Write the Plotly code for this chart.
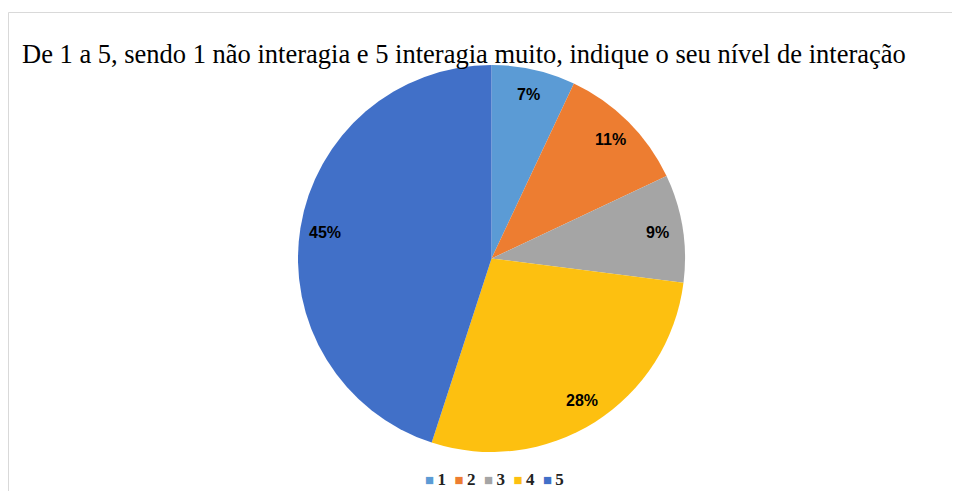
import math
import plotly.graph_objects as go

# dados do gráfico
niveis = ["1", "2", "3", "4", "5"]
percentuais = [7, 11, 9, 28, 45]
cores = ["#5B9BD5", "#ED7D31", "#A5A5A5", "#FDC010", "#4170C8"]

titulo = "De 1 a 5, sendo 1 não interagia e 5 interagia muito, indique o seu nível de interação"

W, H = 960, 491
OFF = 8  # margem padrão do <body> da página


def px(x):
    return (x - OFF) / W


def py(y):
    return 1 - (y - OFF) / H


dom_x = [px(298), px(685)]
dom_y = [py(452), py(65)]

fig = go.Figure(
    go.Pie(
        labels=niveis,
        values=percentuais,
        sort=False,
        direction="clockwise",
        rotation=0,
        marker=dict(colors=cores, line=dict(width=0)),
        textinfo="none",
        hoverinfo="label+percent",
        domain=dict(x=dom_x, y=dom_y),
        showlegend=False,
    )
)

# rótulos de dados perto da borda, como no Excel
cx = (dom_x[0] + dom_x[1]) / 2 * W
cy = (1 - (dom_y[0] + dom_y[1]) / 2) * H
raio = min((dom_x[1] - dom_x[0]) * W, (dom_y[1] - dom_y[0]) * H) / 2
total = sum(percentuais)
acumulado = 0
for p in percentuais:
    ang = 2 * math.pi * (acumulado + p / 2) / total
    acumulado += p
    lx = cx + 0.87 * raio * math.sin(ang)
    ly = cy - 0.87 * raio * math.cos(ang)
    fig.add_annotation(
        x=lx / W,
        y=1 - ly / H,
        xref="paper",
        yref="paper",
        xanchor="center",
        yanchor="middle",
        text=f"<b>{p}%</b>",
        showarrow=False,
        font=dict(family="Liberation Sans", size=16, color="black"),
    )

# legenda compacta na parte de baixo
itens = [
    f'<span style="color:{c};font-size:15px">■</span>\u2009<b>{n}</b>'
    for n, c in zip(niveis, cores)
]
fig.add_annotation(
    x=px(494),
    y=py(479),
    xref="paper",
    yref="paper",
    xanchor="center",
    yanchor="middle",
    text="&nbsp;&nbsp;".join(itens),
    showarrow=False,
    font=dict(family="Liberation Serif", size=17, color="#222222"),
)

# moldura cinza clara do gráfico
fig.add_shape(
    type="rect",
    xref="paper",
    yref="paper",
    x0=0.5 / W,
    x1=1.02,
    y0=-0.02,
    y1=py(12.5),
    line=dict(color="#D9D9D9", width=1),
)

fig.update_layout(
    width=W,
    height=H,
    margin=dict(l=0, r=0, t=0, b=0),
    paper_bgcolor="white",
    showlegend=False,
    title=dict(
        text=titulo,
        x=px(22),
        xanchor="left",
        y=py(54),
        yanchor="middle",
        font=dict(family="Liberation Serif", size=26.5, color="black"),
    ),
)

fig.write_html("out.html")
